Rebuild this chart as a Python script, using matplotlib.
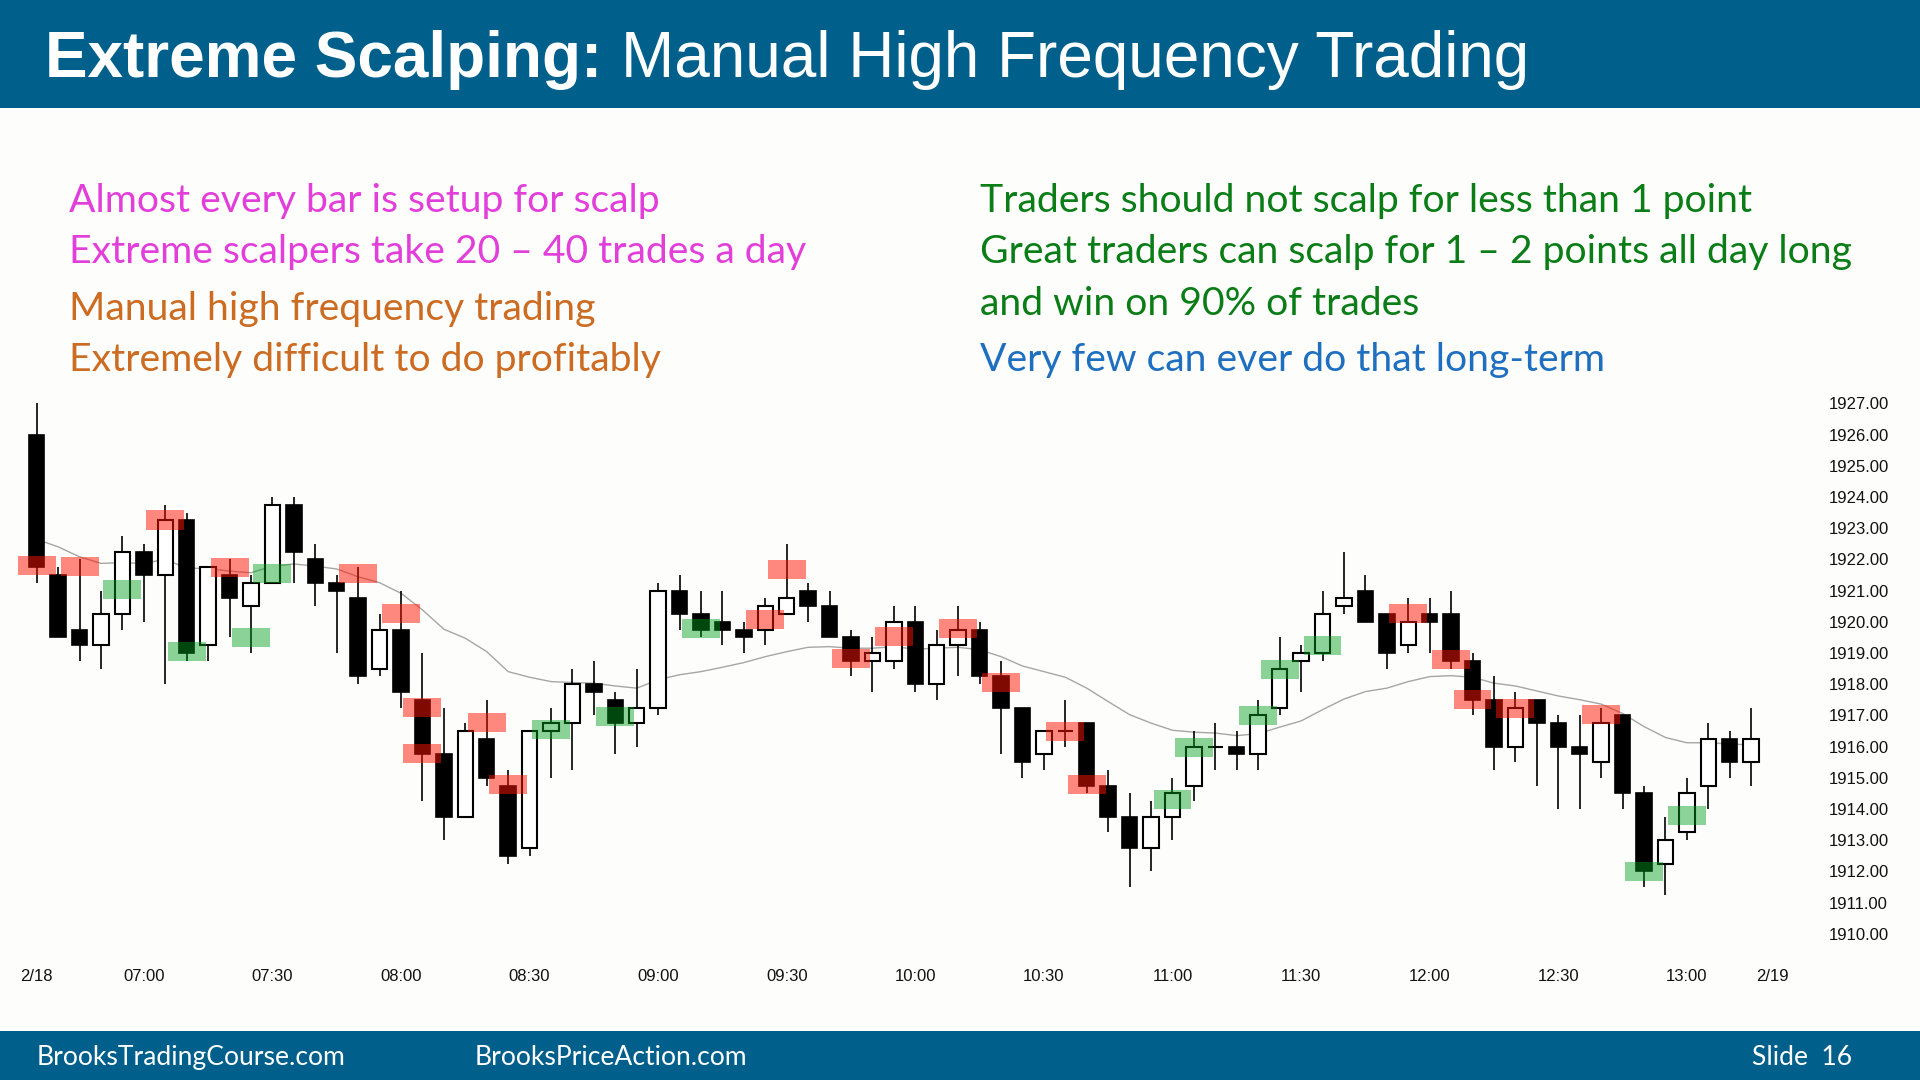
import numpy as np
import matplotlib
matplotlib.use("Agg")
import matplotlib.pyplot as plt
from matplotlib.patches import Rectangle

# ---------------- data (5-minute bars, 06:35 .. 13:15) ----------------
opens = [1926.0, 1921.5, 1919.75, 1919.25, 1920.25, 1922.25, 1921.5, 1923.25, 1919.25, 1921.5,
         1920.5, 1921.25, 1923.75, 1922.0, 1921.25, 1920.75, 1918.5, 1919.75, 1917.5, 1915.75,
         1913.75, 1916.25, 1914.75, 1912.75, 1916.5, 1916.75, 1918.0, 1917.5, 1916.75, 1917.25,
         1921.0, 1920.25, 1920.0, 1919.75, 1919.75, 1920.25, 1921.0, 1920.5, 1919.5, 1918.75,
         1918.75, 1920.0, 1918.0, 1919.25, 1919.75, 1918.25, 1917.25, 1915.75, 1916.5, 1916.75,
         1914.75, 1913.75, 1912.75, 1913.75, 1914.75, 1916.0, 1916.0, 1915.75, 1917.25, 1918.75,
         1919.0, 1920.5, 1921.0, 1920.25, 1919.25, 1920.25, 1920.25, 1918.75, 1917.5, 1916.0,
         1917.5, 1916.75, 1916.0, 1915.5, 1917.0, 1914.5, 1912.25, 1913.25, 1914.75, 1916.25,
         1915.5]
highs = [1927.0, 1921.75, 1922.0, 1921.0, 1922.75, 1922.5, 1923.75, 1923.5, 1921.75, 1922.0,
         1921.5, 1924.0, 1924.0, 1922.5, 1921.5, 1921.75, 1920.25, 1921.0, 1919.0, 1917.25,
         1916.75, 1917.5, 1915.25, 1916.5, 1917.25, 1918.5, 1918.75, 1917.75, 1918.5, 1921.25,
         1921.5, 1921.0, 1921.0, 1920.0, 1920.75, 1922.5, 1921.25, 1921.0, 1919.75, 1919.5,
         1920.5, 1920.5, 1919.75, 1920.5, 1920.0, 1918.75, 1917.25, 1916.5, 1917.5, 1916.75,
         1915.25, 1914.5, 1914.25, 1915.0, 1916.5, 1916.75, 1916.5, 1917.5, 1919.5, 1919.25,
         1921.0, 1922.25, 1921.5, 1920.25, 1920.75, 1920.75, 1921.0, 1919.0, 1918.25, 1917.75,
         1917.5, 1917.0, 1917.0, 1917.25, 1917.0, 1914.75, 1913.75, 1915.0, 1916.75, 1916.5,
         1917.25]
lows = [1921.25, 1919.5, 1918.75, 1918.5, 1919.75, 1920.0, 1918.0, 1918.75, 1918.75, 1919.5,
        1919.0, 1921.25, 1921.25, 1920.5, 1919.0, 1918.0, 1918.25, 1917.25, 1914.25, 1913.0,
        1913.75, 1914.75, 1912.25, 1912.5, 1915.0, 1915.25, 1917.0, 1915.75, 1916.0, 1917.0,
        1919.75, 1919.5, 1919.25, 1919.0, 1919.25, 1920.25, 1920.0, 1919.5, 1918.25, 1917.75,
        1918.5, 1917.75, 1917.5, 1918.25, 1918.0, 1915.75, 1915.0, 1915.25, 1916.0, 1914.5,
        1913.25, 1911.5, 1912.0, 1913.0, 1914.25, 1915.25, 1915.25, 1915.25, 1917.0, 1917.75,
        1918.75, 1920.25, 1920.0, 1918.5, 1919.0, 1919.0, 1918.5, 1917.0, 1915.25, 1915.5,
        1914.75, 1914.0, 1914.0, 1915.0, 1914.0, 1911.5, 1911.25, 1913.0, 1914.0, 1915.0,
        1914.75]
closes = [1921.75, 1919.5, 1919.25, 1920.25, 1922.25, 1921.5, 1923.25, 1919.0, 1921.75, 1920.75,
          1921.25, 1923.75, 1922.25, 1921.25, 1921.0, 1918.25, 1919.75, 1917.75, 1915.75, 1913.75,
          1916.5, 1915.0, 1912.5, 1916.5, 1916.75, 1918.0, 1917.75, 1916.75, 1917.25, 1921.0,
          1920.25, 1919.75, 1919.75, 1919.5, 1920.5, 1920.75, 1920.5, 1919.5, 1918.75, 1919.0,
          1920.0, 1918.0, 1919.25, 1919.75, 1918.25, 1917.25, 1915.5, 1916.5, 1916.5, 1914.75,
          1913.75, 1912.75, 1913.75, 1914.5, 1916.0, 1916.0, 1915.75, 1917.0, 1918.5, 1919.0,
          1920.25, 1920.75, 1920.0, 1919.0, 1920.0, 1920.0, 1918.75, 1917.5, 1916.0, 1917.25,
          1916.75, 1916.0, 1915.75, 1916.75, 1914.5, 1912.0, 1913.0, 1914.5, 1916.25, 1915.5,
          1916.25]
ema20 = [1922.64, 1922.40, 1922.08, 1921.87, 1921.89, 1921.87, 1922.00, 1921.71, 1921.71, 1921.62,
         1921.57, 1921.78, 1921.85, 1921.78, 1921.69, 1921.44, 1921.25, 1920.91, 1920.38, 1919.76,
         1919.47, 1919.04, 1918.40, 1918.22, 1918.08, 1918.05, 1918.03, 1917.94, 1917.87, 1918.14,
         1918.30, 1918.40, 1918.54, 1918.69, 1918.88, 1919.04, 1919.18, 1919.20, 1919.15, 1919.15,
         1919.20, 1919.12, 1919.15, 1919.18, 1919.10, 1918.88, 1918.58, 1918.40, 1918.22, 1917.87,
         1917.44, 1917.02, 1916.75, 1916.52, 1916.46, 1916.43, 1916.35, 1916.41, 1916.62, 1916.82,
         1917.18, 1917.52, 1917.76, 1917.87, 1918.08, 1918.24, 1918.27, 1918.22, 1918.03, 1917.94,
         1917.78, 1917.62, 1917.50, 1917.36, 1917.06, 1916.64, 1916.29, 1916.12, 1916.12, 1916.08,
         1916.05]

# scalp entries (bar index, price)
sell_bars = [0, 2, 6, 9, 15, 17, 18, 18, 21, 22, 34, 35, 38, 40, 43, 45, 48, 49, 64, 66, 67, 69, 73]
sell_prices = [1921.81, 1921.78, 1923.26, 1921.74, 1921.55, 1920.25, 1917.26, 1915.79, 1916.78,
               1914.77, 1920.06, 1921.66, 1918.81, 1919.52, 1919.77, 1918.06, 1916.48, 1914.78,
               1920.27, 1918.78, 1917.52, 1917.22, 1917.02]
buy_bars = [4, 7, 10, 11, 24, 27, 31, 53, 54, 57, 58, 60, 75, 77]
buy_prices = [1921.03, 1919.05, 1919.50, 1921.53, 1916.53, 1916.95, 1919.77, 1914.31, 1915.96,
              1916.98, 1918.48, 1919.25, 1912.00, 1913.80]

time_tick_bars = [0, 5, 11, 17, 23, 29, 35, 41, 47, 53, 59, 65, 71, 77, 81]
time_tick_labels = ['2/18', '07:00', '07:30', '08:00', '08:30', '09:00', '09:30', '10:00',
                    '10:30', '11:00', '11:30', '12:00', '12:30', '13:00', '2/19']
price_ticks = [1910, 1911, 1912, 1913, 1914, 1915, 1916, 1917, 1918, 1919, 1920, 1921, 1922,
               1923, 1924, 1925, 1926, 1927]

title_bold = 'Extreme Scalping:'
title_rest = 'Manual High Frequency Trading'
left_lines = ['Almost every bar is setup for scalp',
              'Extreme scalpers take 20 \u2013 40 trades a day',
              'Manual high frequency trading',
              'Extremely difficult to do profitably']
right_lines = ['Traders should not scalp for less than 1 point',
               'Great traders can scalp for 1 \u2013 2 points all day long',
               'and win on 90% of trades',
               'Very few can ever do that long-term']
footer_texts = ['BrooksTradingCourse.com', 'BrooksPriceAction.com', 'Slide  16']

# ---------------- figure ----------------
W, H = 1920, 1080
fig = plt.figure(figsize=(19.2, 10.8), dpi=100)
fig.patch.set_facecolor('#FDFDFB')


def fx(px):
    return px / W


def fy(py):
    return 1 - py / H


BANNER = '#00608B'
fig.patches.append(Rectangle((0, fy(108)), 1, 108 / H, transform=fig.transFigure,
                             facecolor=BANNER, edgecolor='none', zorder=0))
fig.patches.append(Rectangle((0, 0), 1, 49 / H, transform=fig.transFigure,
                             facecolor=BANNER, edgecolor='none', zorder=0))

renderer = fig.canvas.get_renderer()


def width_px(t):
    return t.get_window_extent(renderer=renderer).width


def fitted(items, family, base=30, weight='normal'):
    objs = []
    for x, y, s, c, tw in items:
        objs.append(fig.text(fx(x), fy(y), s, color=c, fontsize=base, family=family,
                             weight=weight, va='baseline', ha='left'))
    ratios = [it[4] / width_px(o) for o, it in zip(objs, items)]
    k = float(np.median(ratios))
    for o in objs:
        o.set_fontsize(base * k)
    return objs


# title
tb = fig.text(fx(45), fy(77), title_bold, color='white', fontsize=46,
              family='Liberation Sans', weight='bold', va='baseline')
tr = fig.text(fx(621), fy(77), title_rest, color='white', fontsize=46,
              family='Liberation Sans', va='baseline')
k = float(np.median([555 / width_px(tb), 910 / width_px(tr)]))
tb.set_fontsize(46 * k)
tr.set_fontsize(46 * k)

MAG, ORA, GRN, BLU = '#E23FDA', '#CC6C22', '#0A7D17', '#1E6FBF'
body_items = [
    (69, 212, left_lines[0], MAG, 591),
    (69, 263, left_lines[1], MAG, 732),
    (69, 320, left_lines[2], ORA, 531),
    (69, 371, left_lines[3], ORA, 593),
    (980, 212, right_lines[0], GRN, 771),
    (980, 263, right_lines[1], GRN, 871),
    (980, 315, right_lines[2], GRN, 438),
    (980, 371, right_lines[3], BLU, 623),
]
fitted(body_items, 'Lato', base=30)

foot_items = [
    (37, 1065, footer_texts[0], 'white', 310),
    (475, 1065, footer_texts[1], 'white', 273),
    (1752, 1065, footer_texts[2], 'white', 99),
]
fitted(foot_items, 'Lato', base=20)

# ---------------- chart ----------------
ax = fig.add_axes([fx(0), fy(950), 1800 / W, (950 - 390) / H])
ax.set_facecolor('none')
for s in ax.spines.values():
    s.set_visible(False)

o = np.array(opens)
h = np.array(highs)
l = np.array(lows)
c = np.array(closes)
x = np.arange(len(o))
up = c > o
dn = c < o
fl = c == o
bw = 0.72

ax.plot(x, ema20, color='#A6A6A6', lw=1.0, zorder=1)
ax.vlines(x, l, h, color='black', lw=1.2, zorder=2)
ax.bar(x[dn], (o - c)[dn], bottom=c[dn], width=bw, facecolor='black',
       edgecolor='black', lw=1.2, zorder=3)
ax.bar(x[up], (c - o)[up], bottom=o[up], width=bw, facecolor='white',
       edgecolor='black', lw=1.5, zorder=3)
ax.hlines(o[fl], x[fl] - bw / 2, x[fl] + bw / 2, color='black', lw=1.5, zorder=3)

rw, rh = 1.77, 0.61
ax.bar(sell_bars, rh, bottom=np.array(sell_prices) - rh / 2, width=rw,
       color=(1.0, 0.08, 0.0), alpha=0.5, lw=0, zorder=4)
ax.bar(buy_bars, rh, bottom=np.array(buy_prices) - rh / 2, width=rw,
       color=(0.0, 0.62, 0.12), alpha=0.45, lw=0, zorder=4)

ax.set_xlim(-36.7 / 21.43, (1800 - 36.7) / 21.43)
ax.set_ylim(1927 - (950 - 403.3) / 31.2, 1927 + (403.3 - 390) / 31.2)

ax.yaxis.tick_right()
ax.set_yticks(price_ticks)
ax.set_yticklabels([f'{v:.2f}' for v in price_ticks], family='Liberation Sans',
                   fontsize=12, color='#111111')
ax.tick_params(axis='y', length=0, pad=21)
ax.set_xticks(time_tick_bars)
ax.set_xticklabels(time_tick_labels, family='Liberation Sans', fontsize=12, color='#111111')
ax.tick_params(axis='x', length=0, pad=14)

fig.savefig('out.png', dpi=100, facecolor=fig.get_facecolor())
